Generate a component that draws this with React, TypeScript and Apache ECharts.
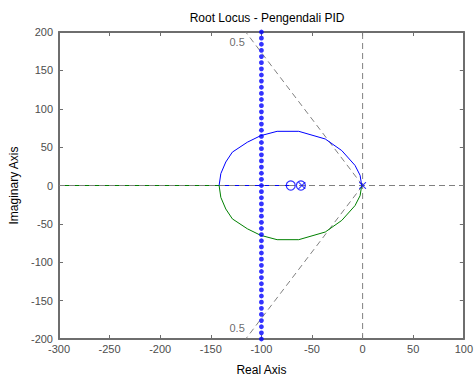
import React, { useEffect, useRef } from "react";
import * as echarts from "echarts";

const xTicks = [-300, 100, 50];
const yTicks = [-200, 200, 50];

// upper branch (blue) of the locus
const upperBranch: [number, number][] = [
  [-141.8, 0], [-140.1, 15.5], [-135.2, 30.6], [-128.7, 43.5], [-113.9, 56.4],
  [-100.8, 64.9], [-84.5, 70.6], [-63.1, 70.6], [-36.9, 60.6], [-20.6, 45.5],
  [-7.5, 26.2], [-2.5, 13.3], [-0.9, 0],
];
// lower branch (green), mirror
const lowerBranch: [number, number][] = [
  [-141.8, 0], [-140.1, -15.5], [-135.2, -30.6], [-128.7, -43.5], [-113.9, -56.4],
  [-100.8, -64.9], [-84.5, -70.6], [-63.1, -70.6], [-36.9, -60.6], [-20.6, -45.5],
  [-7.5, -26.2], [-2.5, -13.3], [-0.9, 0],
];
const greenReal: [number, number][] = [[-300, 0], [-141.8, 0]];
const blueReal: [number, number][] = [[-141.8, 0], [-71, 0]];

// dotted locus branch at Re = -100
const dotImag: number[] = [];
for (let v = -200; v <= 200; v += 8) dotImag.push(v);
const dotBranch = dotImag.map((v) => [-100, v]);

const zeros: [number, number][] = [[-71, 0], [-61, 0]];
const poles: [number, number][] = [[0, 0], [-60, 0]];

const gridRealAxis: [number, number][] = [[-300, 0], [100, 0]];
const gridImagAxis: [number, number][] = [[0, -200], [0, 200]];
const dampUpper: [number, number][] = [[0, 0], [-115.5, 200]];
const dampLower: [number, number][] = [[0, 0], [-115.5, -200]];
const dampLabels: [number, number, string][] = [[-124, 187, "0.5"], [-124, -186, "0.5"]];

const GRAY = "#808080";
const LABEL = "#4d4d4d";
const FONT = "Liberation Sans, Arial, sans-serif";
const X_PATH = "path://M0,0L1,0L5,4L9,0L10,0L10,1L6,5L10,9L10,10L9,10L5,6L1,10L0,10L0,9L4,5L0,1Z";

export default function App() {
  const ref = useRef<HTMLDivElement>(null);
  useEffect(() => {
    document.body.style.margin = "0";
    if (!ref.current) return;
    const chart = echarts.init(ref.current, undefined, { renderer: "svg" });
    const axisCommon = {
      type: "value" as const,
      axisLine: { onZero: false, lineStyle: { color: "#6e6e6e", width: 2 } },
      axisTick: { inside: true, length: 4, lineStyle: { color: "#6e6e6e" } },
      splitLine: { show: false },
    };
    const dashed = (data: [number, number][], z = 2) => ({
      type: "line" as const,
      data,
      symbol: "none",
      silent: true,
      z,
      lineStyle: { color: GRAY, width: 1, type: [6, 4] as any },
    });
    chart.setOption({
      animation: false,
      title: {
        text: "Root Locus - Pengendali PID",
        left: 262,
        top: 7,
        textAlign: "center",
        textStyle: { fontSize: 12, fontWeight: "normal", color: "#000", fontFamily: FONT },
      },
      grid: { left: 59, right: 10, top: 32, bottom: 39 },
      xAxis: [
        {
          ...axisCommon,
          position: "bottom",
          min: xTicks[0], max: xTicks[1], interval: xTicks[2],
          name: "Real Axis",
          nameLocation: "middle",
          nameGap: 25,
          nameTextStyle: { fontSize: 12, color: "#000", fontFamily: FONT },
          axisLabel: { fontSize: 11, color: LABEL, margin: 4, fontFamily: FONT },
        },
        {
          ...axisCommon,
          position: "top",
          min: xTicks[0], max: xTicks[1], interval: xTicks[2],
          axisLabel: { show: false },
        },
      ],
      yAxis: [
        {
          ...axisCommon,
          position: "left",
          min: yTicks[0], max: yTicks[1], interval: yTicks[2],
          name: "Imaginary Axis",
          nameLocation: "middle",
          nameGap: 35,
          nameTextStyle: { fontSize: 12, color: "#000", fontFamily: FONT },
          axisLabel: { fontSize: 11, color: LABEL, margin: 6, fontFamily: FONT },
        },
        {
          ...axisCommon,
          position: "right",
          min: yTicks[0], max: yTicks[1], interval: yTicks[2],
          axisLabel: { show: false },
        },
      ],
      series: [
        {
          type: "line",
          data: greenReal,
          symbol: "none",
          z: 1,
          lineStyle: { color: "#008000", width: 1.2 },
        },
        {
          type: "line",
          data: blueReal,
          symbol: "none",
          z: 1,
          lineStyle: { color: "#0000ff", width: 1.2 },
        },
        dashed(gridRealAxis),
        dashed(gridImagAxis),
        dashed(dampUpper),
        dashed(dampLower),
        {
          type: "line",
          data: upperBranch,
          symbol: "none",
          z: 3,
          lineStyle: { color: "#0000ff", width: 1 },
        },
        {
          type: "line",
          data: lowerBranch,
          symbol: "none",
          z: 3,
          lineStyle: { color: "#008000", width: 1 },
        },
        {
          type: "scatter",
          data: dotBranch,
          symbol: "circle",
          symbolSize: 4.8,
          z: 4,
          itemStyle: { color: "#0000ff" },
        },
        {
          type: "scatter",
          data: zeros,
          symbol: "circle",
          symbolSize: 9,
          z: 5,
          itemStyle: { color: "rgba(0,0,0,0)", borderColor: "#0000ff", borderWidth: 1.2 },
        },
        {
          type: "scatter",
          data: poles,
          symbol: X_PATH,
          symbolSize: 7,
          z: 5,
          itemStyle: { color: "#0000ff" },
        },
        {
          type: "scatter",
          data: dampLabels.map((d) => ({ value: [d[0], d[1]], name: d[2] })),
          symbolSize: 0,
          z: 6,
          label: {
            show: true,
            position: "inside",
            formatter: (p: any) => p.name,
            fontSize: 11,
            color: "#444",
            fontFamily: FONT,
          },
        },
      ],
    });
    return () => chart.dispose();
  }, []);
  return <div ref={ref} style={{ width: 476, height: 381 }} />;
}
